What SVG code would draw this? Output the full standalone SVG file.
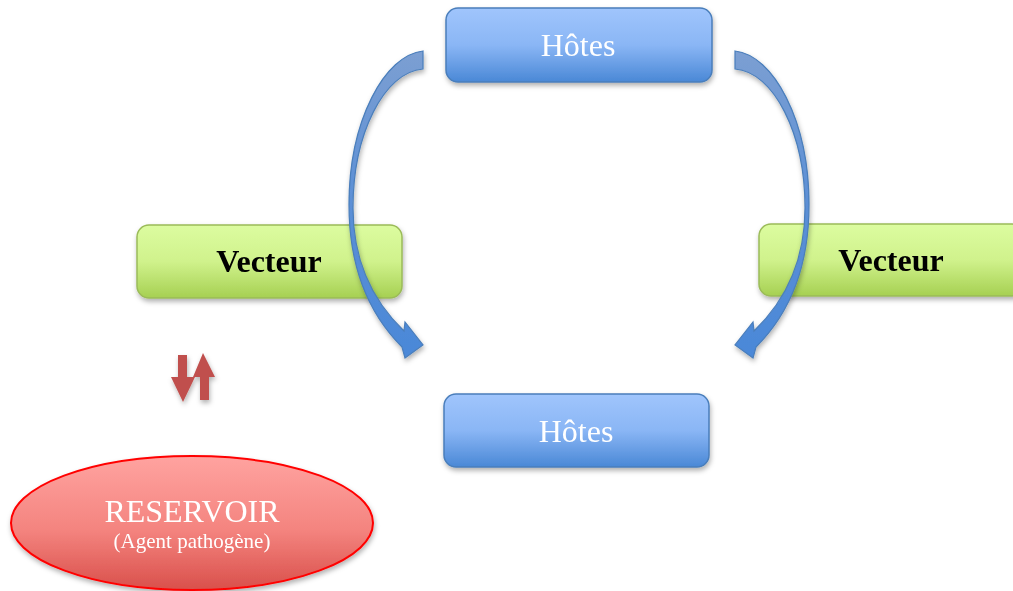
<svg xmlns="http://www.w3.org/2000/svg" width="1013" height="591" viewBox="0 0 1013 591">
<defs>
<linearGradient id="gBlue" x1="0" y1="0" x2="0" y2="1"><stop offset="0" stop-color="#a0c5fc"/><stop offset="0.5" stop-color="#8ab6f5"/><stop offset="1" stop-color="#4a88d6"/></linearGradient>
<linearGradient id="gGreen" x1="0" y1="0" x2="0" y2="1"><stop offset="0" stop-color="#dcfca0"/><stop offset="0.5" stop-color="#d0f28c"/><stop offset="1" stop-color="#a6d052"/></linearGradient>
<linearGradient id="gRed" x1="0" y1="0" x2="0" y2="1"><stop offset="0" stop-color="#ffa3a0"/><stop offset="0.55" stop-color="#f4847f"/><stop offset="1" stop-color="#d9504b"/></linearGradient>
<linearGradient id="gArrow" gradientUnits="userSpaceOnUse" x1="0" y1="50" x2="0" y2="360"><stop offset="0" stop-color="#7c9fd2"/><stop offset="0.5" stop-color="#5b8fd6"/><stop offset="1" stop-color="#4a88d8"/></linearGradient>
<filter id="sh" x="-10%" y="-10%" width="130%" height="140%"><feDropShadow dx="1" dy="3" stdDeviation="2.5" flood-color="#000" flood-opacity="0.3"/></filter>
<path id="curv" d="M423,51 C385,55 349,120 349,205 C349,266 368,313 402,347 L405,358 L423,345 L405,322 L404,331 C376,304 353,266 353,208 C353,134 384,72 423,69 Z"/>
</defs>
<style>
.blue{fill:url(#gBlue);stroke:#4a7ebb;stroke-width:1.5}
.green{fill:url(#gGreen);stroke:#9bbb59;stroke-width:1.5}
.ht{font-family:"Liberation Serif",serif;font-size:32px;fill:#fff;text-anchor:middle}
.vt{font-family:"Liberation Serif",serif;font-size:32px;font-weight:bold;fill:#000;text-anchor:middle}
.arr{fill:url(#gArrow);stroke:#4a7ebb;stroke-width:1.2}
</style>
<g id="hotes-top" filter="url(#sh)"><rect class="blue" x="446" y="8" width="266" height="74" rx="12"/><text class="ht" x="578" y="56">Hôtes</text></g>
<g id="hotes-bottom" filter="url(#sh)"><rect class="blue" x="444" y="394" width="265" height="73" rx="12"/><text class="ht" x="576" y="442">Hôtes</text></g>
<g id="vecteur-left" filter="url(#sh)"><rect class="green" x="137" y="225" width="265" height="73" rx="12"/><text class="vt" x="269" y="272">Vecteur</text></g>
<g id="vecteur-right" filter="url(#sh)"><rect class="green" x="759" y="224" width="265" height="72" rx="12"/><text class="vt" x="891" y="271">Vecteur</text></g>
<g id="reservoir" filter="url(#sh)"><ellipse cx="192" cy="523" rx="181" ry="67" fill="url(#gRed)" stroke="#ff0000" stroke-width="2"/>
<text x="192" y="522" font-family="Liberation Serif,serif" font-size="32" fill="#fff" text-anchor="middle">RESERVOIR</text>
<text x="192" y="548" font-family="Liberation Serif,serif" font-size="21" fill="#fff" text-anchor="middle">(Agent pathogène)</text></g>
<g id="connectors" filter="url(#sh)">
<use href="#curv" class="arr"/>
<use href="#curv" class="arr" transform="translate(1158,0) scale(-1,1)"/>
<path d="M178,355 H187 V377 H195 L183,402 L171,377 H178 Z" fill="#c0504d"/>
<path d="M203,353 L215,377 H209 V400 H200 V377 H193 Z" fill="#c0504d"/>
</g>
</svg>
